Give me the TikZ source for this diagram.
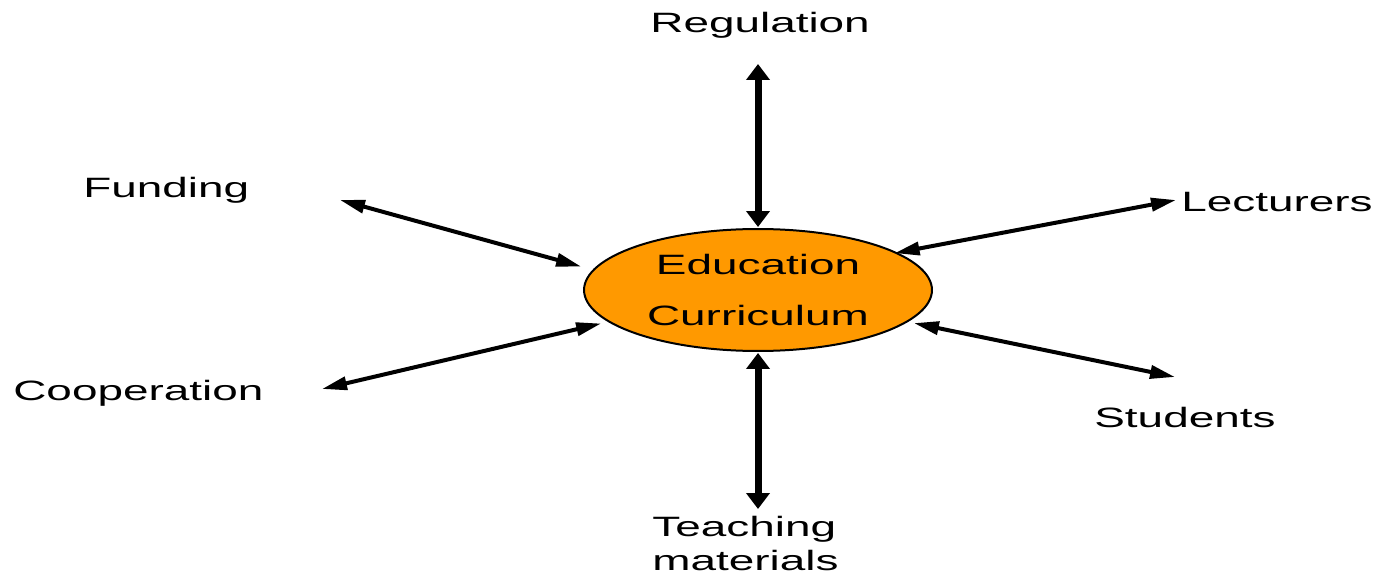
\documentclass[tikz,border=0pt]{standalone}
\usepackage{fontspec}
\newfontfamily\labelfont[FakeStretch=1.64]{Liberation Sans}
\usetikzlibrary{arrows.meta,shapes.geometric}
\definecolor{currorange}{RGB}{255,153,0}
\def\tagfont{\labelfont\fontsize{15.93}{18.8}\selectfont}

\begin{document}
\begin{tikzpicture}[x=0.02cm, y=-0.02cm,
		tag/.style={anchor=base west, inner sep=0pt, font=\tagfont, align=left},
		thinlink/.style={line width=0.08cm, {Triangle[length=0.5cm,width=0.26cm]}-{Triangle[length=0.5cm,width=0.26cm]}},
		thicklink/.style={line width=0.14cm, {Triangle[length=0.32cm,width=0.46cm]}-{Triangle[length=0.32cm,width=0.46cm]}}]
			%%%%% START %%%%%
			
			\useasboundingbox (0, 0) rectangle (1381, 574);
			
			\node[ellipse, draw, line width=0.04cm, fill=currorange, minimum width=6.96cm, minimum height=2.44cm, inner sep=0pt, font=\tagfont, align=center] (curr) at (758, 290) {Education\\[10.2pt]Curriculum};
			
			\node[tag] (regulation) at (650, 33) {Regulation};
			\node[tag] (funding) at (83, 197) {Funding};
			\node[tag] (lecturers) at (1181, 212) {Lecturers};
			\node[tag] (cooperation) at (13, 400) {Cooperation};
			\node[tag] (students) at (1094, 427) {Students};
			\node[tag] (teaching) at (652, 570) {Teaching\\materials};
			
			\coordinate (regEnd) at (758, 64);
			\coordinate (fundEnd) at (340, 200);
			\coordinate (lectEnd) at (1176, 200);
			\coordinate (coopEnd) at (322, 389);
			\coordinate (studEnd) at (1175, 377);
			\coordinate (teachEnd) at (758, 509);
			
			\draw[thicklink, shorten >=0.02cm] (regEnd) -- (curr.north);
			\draw[thicklink, shorten >=0.02cm] (teachEnd) -- (curr.south);
			
			\draw[thinlink, shorten >=0.24cm] (fundEnd) -- (curr.173);
			\draw[thinlink, shorten >=0.14cm] (coopEnd) -- (curr.192);
			\draw[thinlink, shorten >=-0.06cm] (lectEnd) -- (curr.15);
			\draw[thinlink, shorten >=0.12cm] (studEnd) -- (curr.-12);
			
			%%%%% END %%%%%
		\end{tikzpicture}
\end{document}
